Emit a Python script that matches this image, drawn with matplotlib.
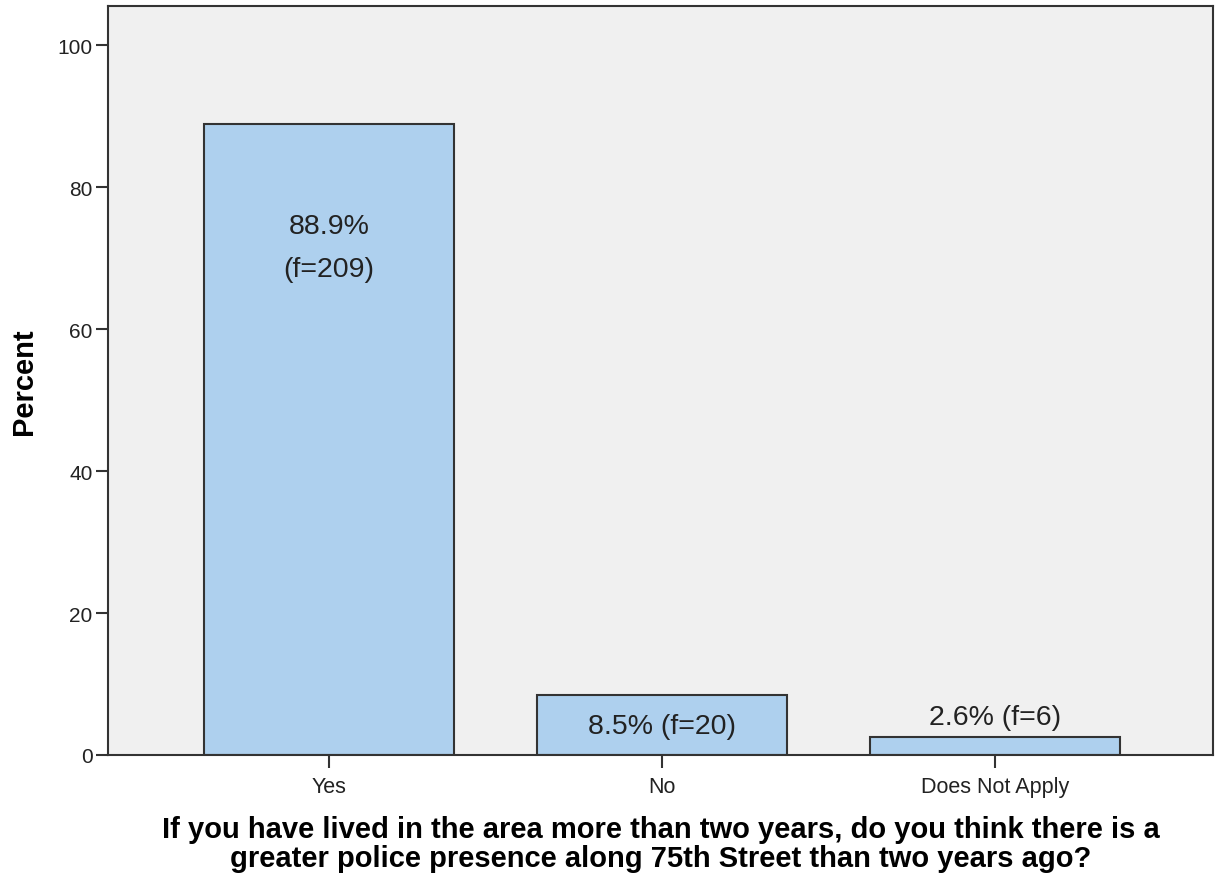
import matplotlib.pyplot as plt

categories = ["Yes", "No", "Does Not Apply"]
percents = [88.9, 8.5, 2.6]
freqs = [209, 20, 6]

plt.rcParams['font.family'] = ['Liberation Sans', 'DejaVu Sans']

fig = plt.figure(figsize=(12.2, 8.78), dpi=100)
ax = fig.add_axes([108 / 1220, 1 - 756 / 878, (1213 - 108) / 1220, (756 - 7) / 878])
ax.set_facecolor("#f0f0f0")

x = list(range(len(categories)))
ax.bar(x, percents, width=0.75, color="#aed0ee", edgecolor="#333333", linewidth=1.5, zorder=2)

ax.set_xlim(-0.664, 2.655)
ax.set_ylim(0, 105.5)
ax.set_yticks([0, 20, 40, 60, 80, 100])
ax.set_xticks(x)
ax.set_xticklabels(categories)
ax.tick_params(axis='both', length=9, width=1.5, color="#333333", labelsize=15, labelcolor="#222222", pad=2)
ax.tick_params(axis='x', labelsize=15.5, pad=6)

for s in ax.spines.values():
    s.set_color("#333333")
    s.set_linewidth(1.5)

# value labels
ax.text(x[0], 74.5, f"{percents[0]}%", ha='center', va='center', fontsize=20.5, color="#222222")
ax.text(x[0], 68.5, f"(f={freqs[0]})", ha='center', va='center', fontsize=20.5, color="#222222")
ax.text(x[1], 4.1, f"{percents[1]}% (f={freqs[1]})", ha='center', va='center', fontsize=20.5, color="#222222")
ax.text(x[2], 5.3, f"{percents[2]}% (f={freqs[2]})", ha='center', va='center', fontsize=20.5, color="#222222")

ax.set_ylabel("Percent", fontsize=21, fontweight='bold', labelpad=14)
ax.set_xlabel("If you have lived in the area more than two years, do you think there is a\ngreater police presence along 75th Street than two years ago?",
              fontsize=21, fontweight='bold', labelpad=13, linespacing=1.05)

fig.savefig("out.png", dpi=100)
